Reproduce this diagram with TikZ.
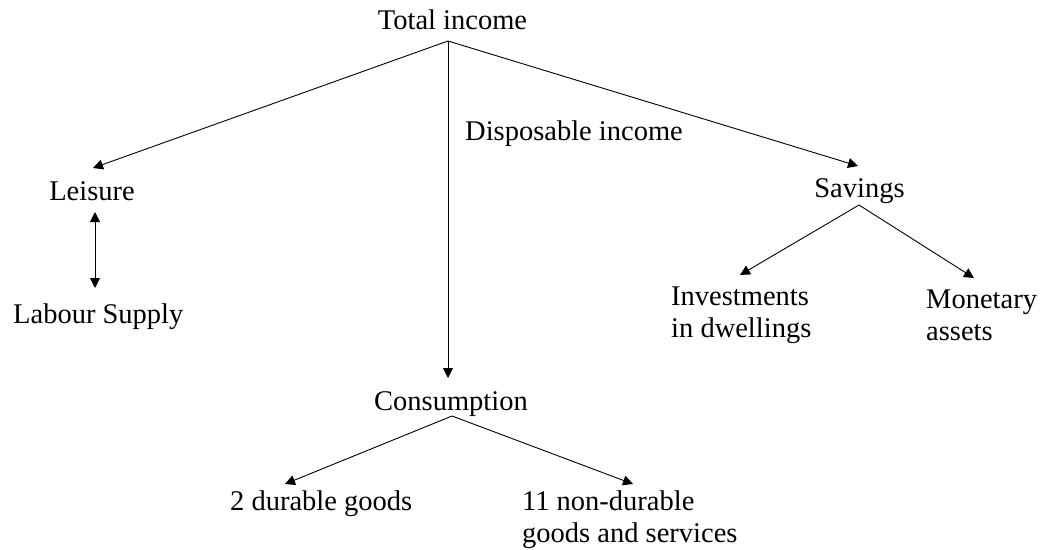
\documentclass[tikz,border=0pt]{standalone}
\usepackage{fontspec}
\setmainfont{Liberation Serif}
\usetikzlibrary{arrows.meta}

\begin{document}
\begin{tikzpicture}[
  x=1pt, y=-1pt,
  font=\fontsize{28.5}{32}\selectfont,
  item/.style={inner sep=0pt, align=left},
  arr/.style={-{Triangle[length=10pt, width=10pt]}, line width=0.9pt},
  darr/.style={{Triangle[length=10pt, width=10pt]}-{Triangle[length=10pt, width=10pt]}, line width=0.9pt}
]
\useasboundingbox (0,0) rectangle (1041,549);
% ----- labels (multi-line ones sit on their last baseline) -----
\node[item, anchor=base]      (total)   at (452.5,29) {Total income};
\node[item, anchor=base west] (disp)    at (465,140)  {Disposable income};
\node[item, anchor=base]      (leis)    at (92,200)   {Leisure};
\node[item, anchor=base west] (labour)  at (13,323)   {Labour Supply};
\node[item, anchor=base]      (sav)     at (859.5,197){Savings};
\node[item, anchor=base west] (invest)  at (671,337)  {Investments\\in dwellings};
\node[item, anchor=base west] (monet)   at (926,340)  {Monetary\\assets};
\node[item, anchor=base]      (cons)    at (451,410)  {Consumption};
\node[item, anchor=base west] (durable) at (230,510)  {2 durable goods};
\node[item, anchor=base west] (nondur)  at (522,542)  {11 non-durable\\goods and services};
% ----- split points below the labels -----
\coordinate (split)     at ([shift={(-4.5,12)}]total.base);
\coordinate (savsplit)  at ([shift={(-0.5,8)}]sav.base);
\coordinate (conssplit) at ([shift={(1,6)}]cons.base);
% ----- arrows -----
\draw[arr] (split) -- ([shift={(1,-32)}]leis.base);
\draw[arr] (split) -- ([shift={(-1.5,-31)}]sav.base);
\draw[arr] (split) -- ([shift={(-3,-32)}]cons.base);
\draw[darr] ([shift={(3,12)}]leis.base) -- ([shift={(82,-35)}]labour.base west);
\draw[arr] (savsplit) -- ([shift={(69,-62)}]invest.base west);
\draw[arr] (savsplit) -- ([shift={(48,-62)}]monet.base west);
\draw[arr] (conssplit) -- ([shift={(55,-26)}]durable.base west);
\draw[arr] (conssplit) -- ([shift={(111,-58)}]nondur.base west);
\end{tikzpicture}
\end{document}
